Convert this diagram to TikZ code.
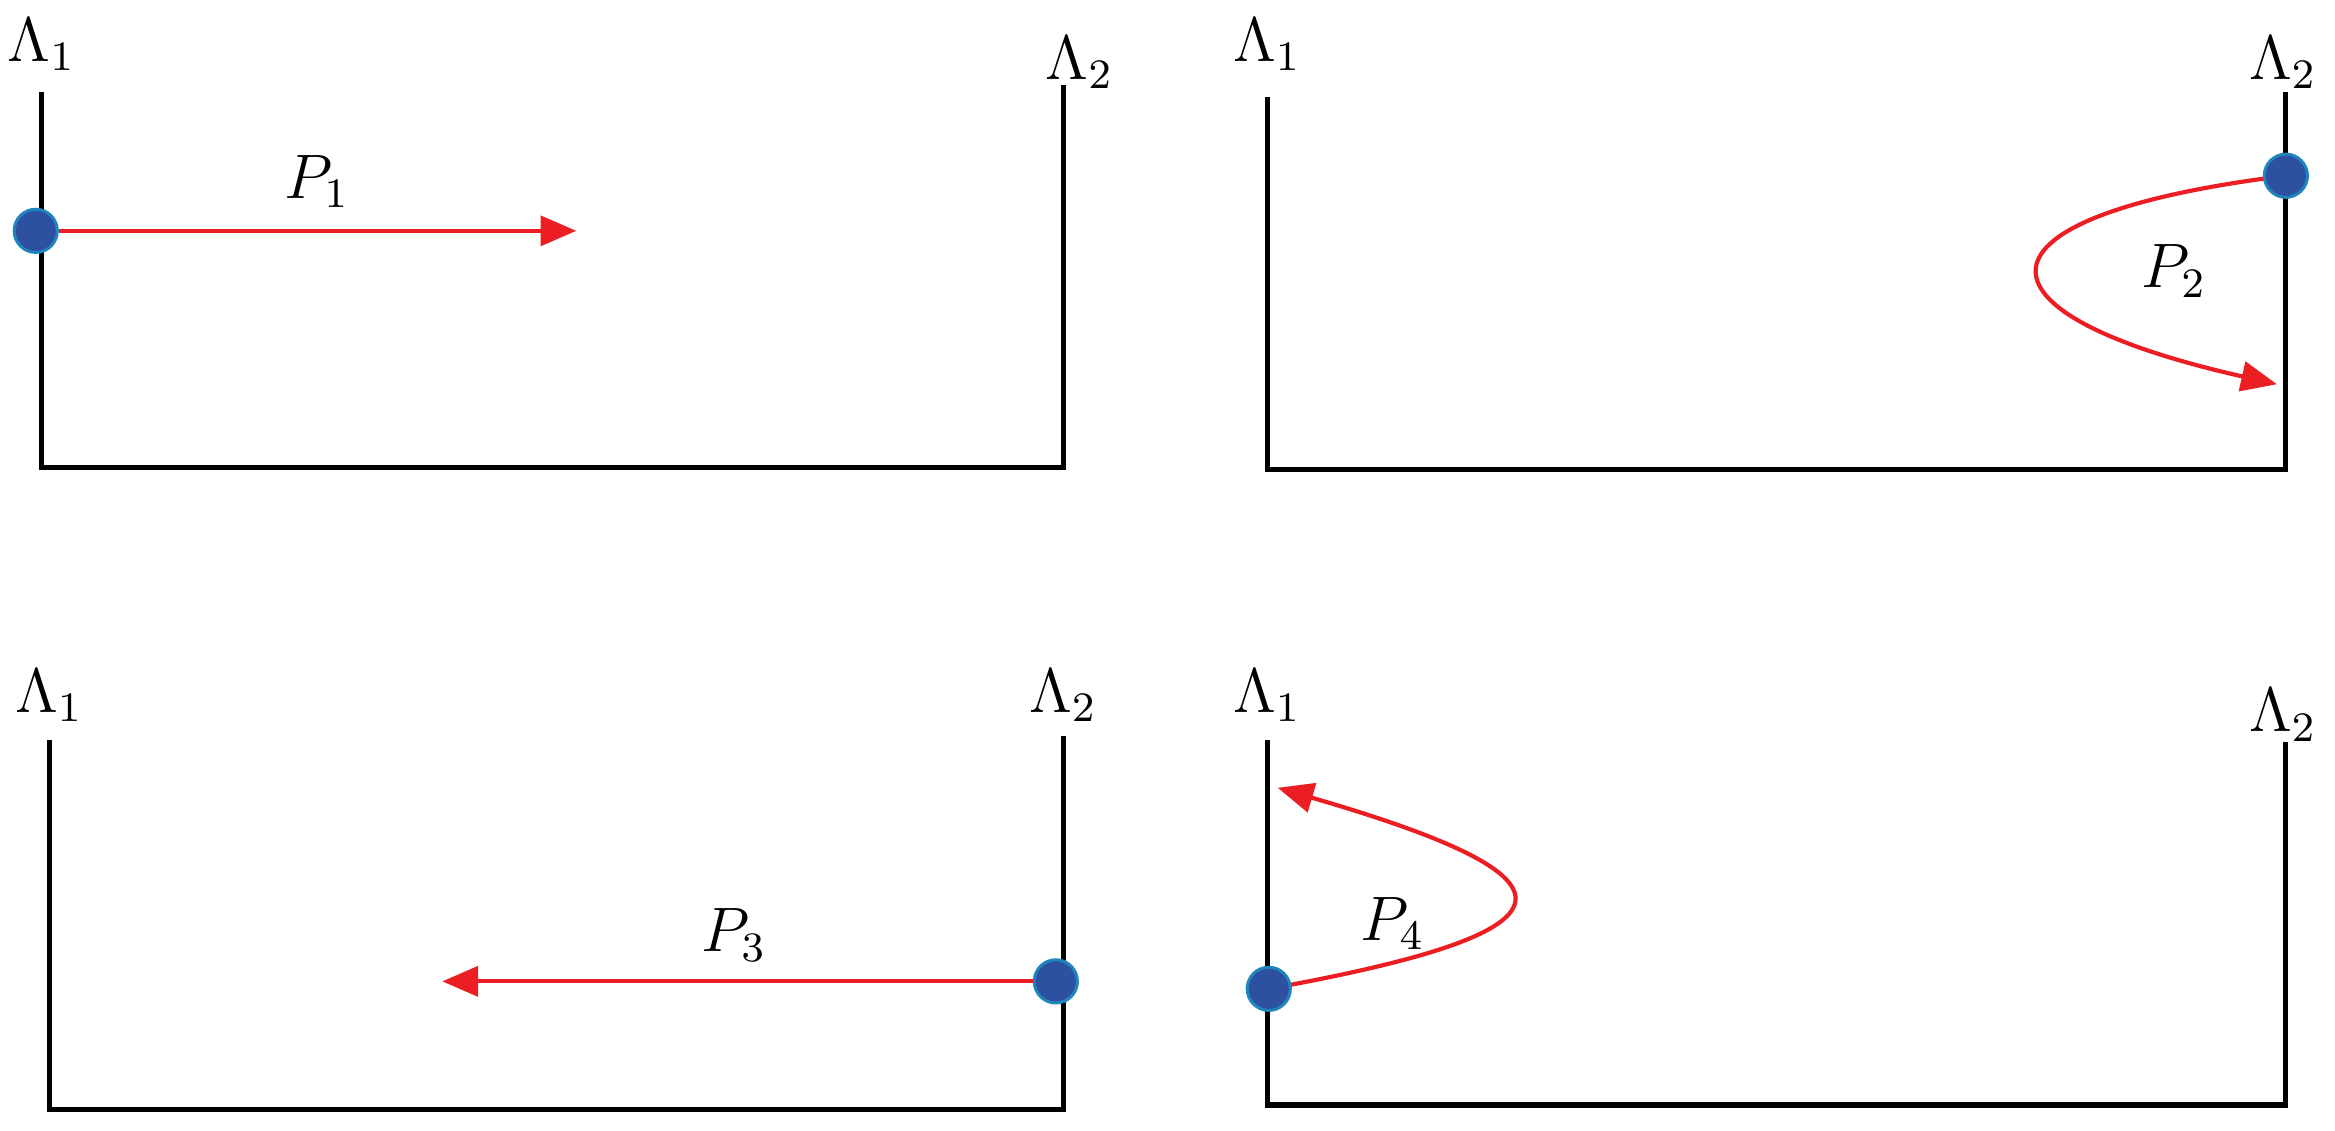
\documentclass[tikz,border=0pt]{standalone}
\usetikzlibrary{arrows.meta}
\definecolor{dotblue}{RGB}{45,80,160}
\definecolor{pathred}{RGB}{235,30,35}
\tikzset{
  wall/.style={line width=0.35mm, black},
  path/.style={line width=0.28mm, pathred, -{Triangle[length=2.4mm,width=2mm]}},
  dot/.style={circle, fill=dotblue, draw=dotblue!70!cyan, line width=0.2mm, minimum size=2.9mm, inner sep=0pt},
  lab/.style={font=\large},
}
\begin{document}
\begin{tikzpicture}[x=0.01cm, y=-0.01cm]
    \useasboundingbox (0,0) rectangle (1568,759);
    % panel 1
    \coordinate (a1) at (28,62);  \coordinate (b1) at (28,314);
    \coordinate (c1) at (714,314); \coordinate (d1) at (714,57);
    \draw [wall] (a1) -- (b1) -- (c1) -- (d1);
    \node [lab] (la1) at (28,30) {$\Lambda_1$};
    \node [lab] (lb1) at (725,42) {$\Lambda_2$};
    \node [dot] (s1) at (24,155) {};
    \coordinate (e1) at (387,155);
    \draw [path] (s1) -- (e1);
    \node [lab] (p1) at (213,122) {$P_1$};
    % panel 2
    \coordinate (a2) at (851,65);  \coordinate (b2) at (851,315);
    \coordinate (c2) at (1535,315); \coordinate (d2) at (1535,62);
    \draw [wall] (a2) -- (b2) -- (c2) -- (d2);
    \node [lab] (la2) at (851,30) {$\Lambda_1$};
    \node [lab] (lb2) at (1533,42) {$\Lambda_2$};
    \coordinate (e2) at (1529,258);
    \draw [path] (1535,118) .. controls (1316,145) and (1316,210) .. (e2);
    \node [dot] (s2) at (1535,118) {};
    \node [lab] (p2) at (1460,182) {$P_2$};
    % panel 3
    \coordinate (a3) at (33,497);  \coordinate (b3) at (33,745);
    \coordinate (c3) at (714,745); \coordinate (d3) at (714,494);
    \draw [wall] (a3) -- (b3) -- (c3) -- (d3);
    \node [lab] (la3) at (33,467) {$\Lambda_1$};
    \node [lab] (lb3) at (714,467) {$\Lambda_2$};
    \node [dot] (s3) at (709,659) {};
    \coordinate (e3) at (297,659);
    \draw [path] (s3) -- (e3);
    \node [lab] (p3) at (493,628) {$P_3$};
    % panel 4
    \coordinate (a4) at (851,497);  \coordinate (b4) at (851,742);
    \coordinate (c4) at (1535,742); \coordinate (d4) at (1535,498);
    \draw [wall] (a4) -- (b4) -- (c4) -- (d4);
    \node [lab] (la4) at (851,467) {$\Lambda_1$};
    \node [lab] (lb4) at (1533,480) {$\Lambda_2$};
    \coordinate (e4) at (858,529);
    \draw [path] (852,664) .. controls (1068,625) and (1068,590) .. (e4);
    \node [dot] (s4) at (852,664) {};
    \node [lab] (p4) at (935,620) {$P_4$};
\end{tikzpicture}
\end{document}
